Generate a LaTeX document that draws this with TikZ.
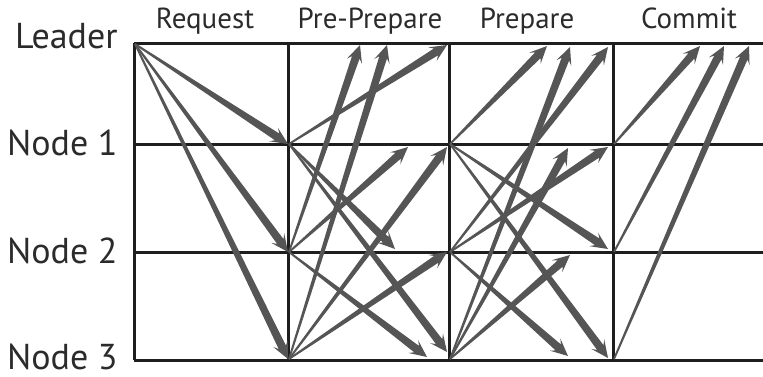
\documentclass[tikz,border=0pt]{standalone}
\usepackage{fontspec}
\setmainfont{PT Sans}
\usetikzlibrary{calc}

\definecolor{msggray}{HTML}{555555}
\definecolor{gridblack}{HTML}{1E1E1E}
\definecolor{labelblack}{HTML}{2B2B2B}

% tapered message arrow, thin at the sender, wide at the head
\newcommand{\msgarrow}[2]{%
  \coordinate (tmp-a) at ($(#2)!6.5pt!(#1)$);
  \coordinate (tmp-b) at ($(#2)!8.6pt!(#1)$);
  \fill[msg] ($(#1)!0.45pt!90:(#2)$) -- ($(tmp-a)!2pt!90:(#2)$) -- ($(tmp-b)!4pt!90:(#2)$) -- (#2)
    -- ($(tmp-b)!4pt!-90:(#2)$) -- ($(tmp-a)!2pt!-90:(#2)$) -- ($(#1)!0.45pt!-90:(#2)$) -- cycle;
}

\begin{document}
\begin{tikzpicture}[
    x=0.5pt, y=-0.5pt,
    grid/.style={line width=1.5pt, draw=gridblack},
    msg/.style={fill=msggray},
    rowlabel/.style={anchor=base east, inner sep=0pt, text=labelblack, font=\fontsize{18}{20}\selectfont},
    phaselabel/.style={anchor=base, inner sep=0pt, text=labelblack, font=\fontsize{14.5}{16}\selectfont}
]
\useasboundingbox (0,0) rectangle (763,376);

% --- Labels ---
\node (leader) [rowlabel] at (118,48) {Leader};
\node (node1) [rowlabel] at (118,155) {Node 1};
\node (node2) [rowlabel] at (118,263) {Node 2};
\node (node3) [rowlabel] at (118,369) {Node 3};

\node (request) [phaselabel] at (205,28) {Request};
\node (preprepare) [phaselabel] at (370,28) {Pre-Prepare};
\node (prepare) [phaselabel] at (527,28) {Prepare};
\node (commit) [phaselabel] at (689,28) {Commit};

% --- Grid ---
\draw [grid] (134,43) -- (763,43);
\draw [grid] (134,144) -- (763,144);
\draw [grid] (134,252) -- (763,252);
\draw [grid] (134,360) -- (763,360);
\draw [grid] (134,43) -- (134,360);
\draw [grid] (288,43) -- (288,360);
\draw [grid] (449,43) -- (449,360);
\draw [grid] (613,43) -- (613,360);

% --- Senders ---
\coordinate (req-L) at (135,44);
\coordinate (pre-1) at (289,144);
\coordinate (pre-2) at (289,252);
\coordinate (pre-3) at (289,359);
\coordinate (prep-1) at (450,144);
\coordinate (prep-2) at (450,252);
\coordinate (prep-3) at (450,359);
\coordinate (com-1) at (614,144);
\coordinate (com-2) at (614,252);
\coordinate (com-3) at (614,359);

% --- Receivers ---
% Request
\coordinate (req-t1) at (288,144);
\coordinate (req-t2) at (288,252);
\coordinate (req-t3) at (288,359);
% Pre-Prepare
\coordinate (pre-1L) at (447,45);
\coordinate (pre-2L) at (360,45);
\coordinate (pre-3L) at (387,45);
\coordinate (pre-21) at (408,147);
\coordinate (pre-31) at (447,147);
\coordinate (pre-12) at (395,249);
\coordinate (pre-32) at (447,252);
\coordinate (pre-23) at (427,357);
\coordinate (pre-13) at (447,352);
% Prepare
\coordinate (prep-1L) at (547,46);
\coordinate (prep-3L) at (570,47);
\coordinate (prep-2L) at (608,47);
\coordinate (prep-31) at (568,148);
\coordinate (prep-21) at (608,147);
\coordinate (prep-12) at (608,249);
\coordinate (prep-32) at (570,255);
\coordinate (prep-23) at (568,356);
\coordinate (prep-13) at (608,358);
% Commit
\coordinate (com-1L) at (700,46);
\coordinate (com-2L) at (724,46);
\coordinate (com-3L) at (749,46);

% --- Messages ---
\msgarrow{req-L}{req-t1}
\msgarrow{req-L}{req-t2}
\msgarrow{req-L}{req-t3}

\msgarrow{pre-1}{pre-1L}
\msgarrow{pre-2}{pre-2L}
\msgarrow{pre-3}{pre-3L}
\msgarrow{pre-2}{pre-21}
\msgarrow{pre-3}{pre-31}
\msgarrow{pre-1}{pre-12}
\msgarrow{pre-3}{pre-32}
\msgarrow{pre-2}{pre-23}
\msgarrow{pre-1}{pre-13}

\msgarrow{prep-1}{prep-1L}
\msgarrow{prep-3}{prep-3L}
\msgarrow{prep-2}{prep-2L}
\msgarrow{prep-3}{prep-31}
\msgarrow{prep-2}{prep-21}
\msgarrow{prep-1}{prep-12}
\msgarrow{prep-3}{prep-32}
\msgarrow{prep-2}{prep-23}
\msgarrow{prep-1}{prep-13}

\msgarrow{com-1}{com-1L}
\msgarrow{com-2}{com-2L}
\msgarrow{com-3}{com-3L}

\end{tikzpicture}
\end{document}
